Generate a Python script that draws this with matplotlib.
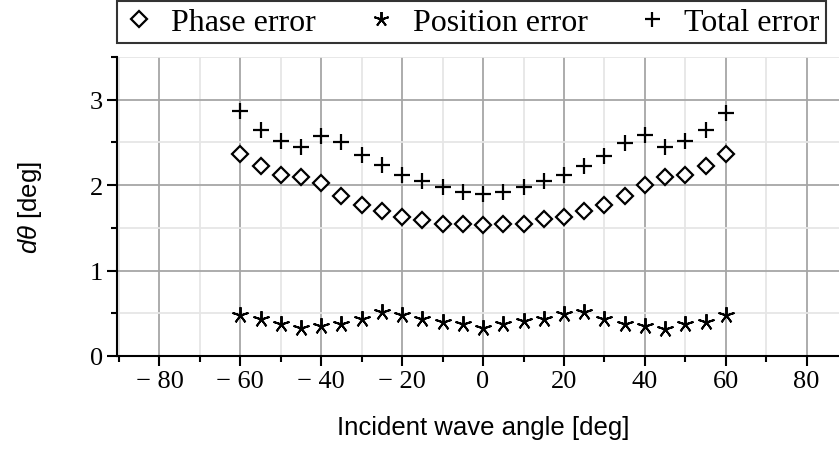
import matplotlib
matplotlib.use("Agg")
import matplotlib.pyplot as plt
from matplotlib.ticker import MultipleLocator, FuncFormatter

plt.rcParams['mathtext.fontset'] = 'custom'
plt.rcParams['mathtext.it'] = 'Liberation Sans:italic'
plt.rcParams['mathtext.rm'] = 'Liberation Sans'

angles = [-60, -55, -50, -45, -40, -35, -30, -25, -20, -15, -10, -5, 0,
          5, 10, 15, 20, 25, 30, 35, 40, 45, 50, 55, 60]
phase_error = [2.37, 2.22, 2.12, 2.10, 2.02, 1.87, 1.77, 1.70, 1.63, 1.59, 1.55, 1.55, 1.53,
               1.55, 1.55, 1.60, 1.63, 1.70, 1.77, 1.87, 2.00, 2.10, 2.12, 2.22, 2.37]
position_error = [0.48, 0.43, 0.38, 0.33, 0.35, 0.38, 0.43, 0.51, 0.48, 0.43, 0.40, 0.37, 0.33,
                  0.38, 0.41, 0.43, 0.49, 0.51, 0.43, 0.38, 0.35, 0.32, 0.38, 0.40, 0.48]
total_error = [2.87, 2.65, 2.52, 2.45, 2.58, 2.50, 2.35, 2.23, 2.12, 2.05, 1.98, 1.92, 1.90,
               1.92, 1.98, 2.05, 2.12, 2.22, 2.34, 2.49, 2.59, 2.45, 2.52, 2.65, 2.84]

fig = plt.figure(figsize=(8.39, 4.52), dpi=100)
ax = fig.add_axes([117/839, 1-357/452, 1-117/839, (357-58)/452])

ax.plot(angles, phase_error, linestyle='none', marker='D', ms=8.5, mfc='white',
        mec='black', mew=1.6, label='Phase error', zorder=3)
ax.plot(angles, position_error, linestyle='none', marker=(5, 2, 0), ms=12, mfc='black',
        mec='black', mew=1.4, label='Position error', zorder=3)
ax.plot(angles, total_error, linestyle='none', marker='+', ms=12, mec='black',
        mew=1.6, label='Total error', zorder=3)

ax.set_xlim(-90.5, 88)
ax.set_ylim(0, 3.5)
ax.xaxis.set_major_locator(MultipleLocator(20))
ax.xaxis.set_minor_locator(MultipleLocator(10))
ax.yaxis.set_major_locator(MultipleLocator(1))
ax.yaxis.set_minor_locator(MultipleLocator(0.5))

def fmt(v, pos):
    v = int(round(v))
    return ('\u2212 %d' % -v) if v < 0 else '%d' % v
ax.xaxis.set_major_formatter(FuncFormatter(fmt))
ax.yaxis.set_major_formatter(FuncFormatter(fmt))

ax.grid(which='major', color='#a6a6a6', linewidth=1.3)
ax.grid(which='minor', color='#e6e6e6', linewidth=1.3)
ax.set_axisbelow(True)

for s in ['top', 'right']:
    ax.spines[s].set_visible(False)
for s in ['left', 'bottom']:
    ax.spines[s].set_linewidth(1.5)

ax.tick_params(which='major', direction='out', length=7, width=1.5, labelsize=19, pad=3)
ax.tick_params(which='minor', direction='out', length=4, width=1.5)
for lab in ax.get_xticklabels() + ax.get_yticklabels():
    lab.set_fontfamily('Liberation Serif')

ax.set_xlabel('Incident wave angle [deg]', fontsize=18.5, family='Liberation Sans')
ax.set_ylabel(r'$d\theta$ [deg]', fontsize=18.5, family='Liberation Sans')
ax.xaxis.set_label_coords((483-117)/722, (357-416)/299)
ax.yaxis.set_label_coords((44-117)/722, 0.5)

leg = fig.legend(loc='upper left', bbox_to_anchor=(117/839, 1-2/452, (826-117)/839, 0.0),
                 mode='expand', ncol=3, frameon=True, fancybox=False, edgecolor='black',
                 prop={'family': 'Liberation Serif', 'size': 23}, handletextpad=0.5,
                 borderpad=0.2, handlelength=1.0, markerscale=0.9, borderaxespad=0)
leg.get_frame().set_linewidth(1.5)

fig.savefig('out.png', dpi=100)
